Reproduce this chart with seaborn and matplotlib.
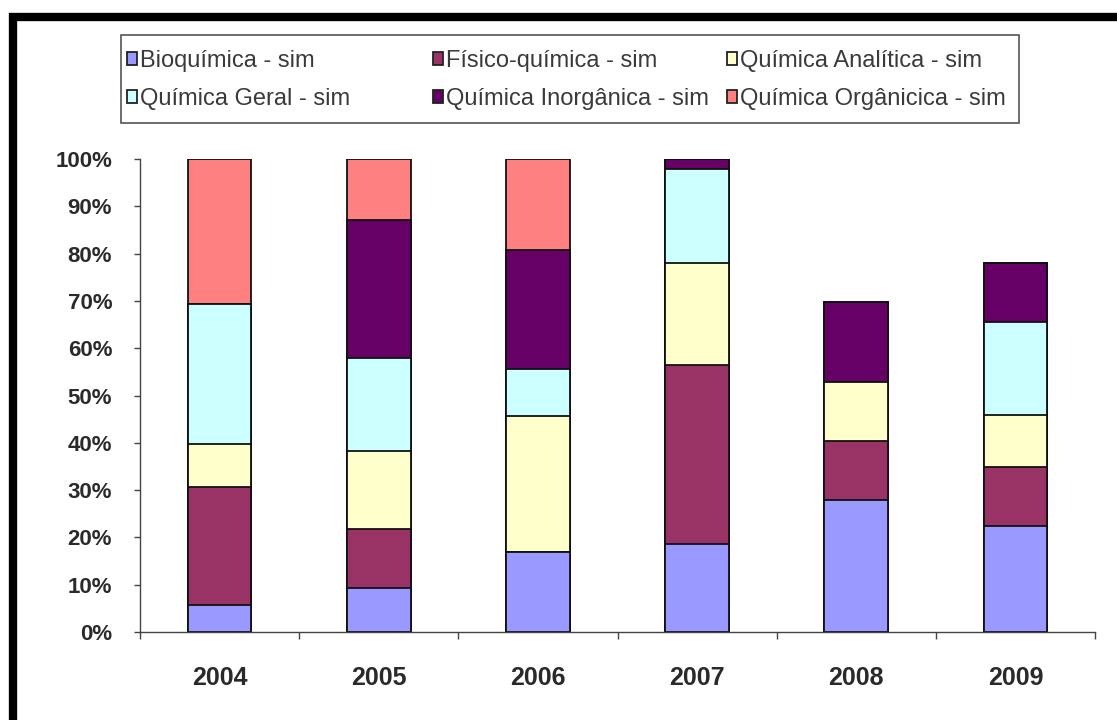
import numpy as np
import pandas as pd
import matplotlib
matplotlib.use("Agg")
import matplotlib.pyplot as plt
import matplotlib.patches as mpatches
from matplotlib.ticker import FuncFormatter, FixedLocator
import seaborn as sns

# ---- data (percent of each year) ----
years = ["2004", "2005", "2006", "2007", "2008", "2009"]
series_names = ["Bioquímica - sim", "Físico-química - sim", "Química Analítica - sim",
                "Química Geral - sim", "Química Inorgânica - sim", "Química Orgânicica - sim"]
bioquimica = [5.7, 9.2, 17.0, 18.5, 27.9, 22.4]
fisico_quimica = [25.0, 12.5, 0.0, 37.9, 12.5, 12.5]
analitica = [9.0, 16.6, 28.6, 21.6, 12.5, 11.0]
geral = [29.7, 19.6, 9.9, 19.8, 0.0, 19.6]
inorganica = [0.0, 29.3, 25.3, 2.2, 16.9, 12.5]
organica = [30.6, 12.8, 19.2, 0.0, 0.0, 0.0]
colors = ["#9999FF", "#993366", "#FFFFCC", "#CCFFFF", "#660066", "#FF8080"]

values = [bioquimica, fisico_quimica, analitica, geral, inorganica, organica]

plt.rcParams["font.family"] = ["Liberation Sans", "DejaVu Sans"]

W, H = 1117, 720
fig = plt.figure(figsize=(W / 100, H / 100), dpi=100)
fig.patch.set_facecolor("white")
ax = fig.add_axes([140 / W, 1 - 632 / H, (1095 - 140) / W, (632 - 159) / H])

cum = np.cumsum(np.array(values), axis=0)
# draw from the top series down so lower segments are painted over
for i in range(len(series_names) - 1, -1, -1):
    df = pd.DataFrame({"year": years, "cum": cum[i]})
    sns.barplot(data=df, x="year", y="cum", order=years, color=colors[i],
                saturation=1, width=0.4, edgecolor="#111111", linewidth=1.3,
                errorbar=None, ax=ax)

ax.set_xlim(-0.5, len(years) - 0.5)
ax.set_ylim(0, 100)
ax.set_yticks(np.arange(0, 101, 10))
ax.yaxis.set_major_formatter(FuncFormatter(lambda v, p: f"{int(round(v))}%"))
ax.set_xlabel("")
ax.set_ylabel("")

for s in ["top", "right"]:
    ax.spines[s].set_visible(False)
for s in ["left", "bottom"]:
    ax.spines[s].set_color("#444444")
    ax.spines[s].set_linewidth(1.0)

ax.tick_params(axis="y", direction="out", length=4, width=1, color="#444444",
               pad=16, labelsize=16, labelcolor="#2a2a2a")
ax.tick_params(axis="x", which="major", length=0, pad=24.5, labelsize=18,
               labelcolor="#2a2a2a")
for lab in ax.get_yticklabels() + ax.get_xticklabels():
    lab.set_fontweight("bold")
ax.xaxis.set_minor_locator(FixedLocator(np.arange(-0.5, len(years), 1.0)))
ax.tick_params(axis="x", which="minor", direction="out", length=5, width=1,
               color="#444444")

# legend: three columns placed separately, one shared frame
handles = [mpatches.Patch(facecolor=c, edgecolor="#222222", linewidth=1.3) for c in colors]
col_x = [127, 433, 727]
for j in range(3):
    idx = [j, j + 3]
    leg = fig.legend([handles[k] for k in idx], [series_names[k] for k in idx],
                     loc="upper left", bbox_to_anchor=(col_x[j] / W, 1 - 50 / H),
                     fontsize=17, frameon=False, handlelength=0.42,
                     handleheight=0.42, handletextpad=0.15, labelspacing=0.67,
                     borderpad=0, borderaxespad=0)
    for t in leg.get_texts():
        t.set_color("#3a3a3a")

legend_frame = mpatches.Rectangle((120.5 / W, 1 - 123 / H), (1019 - 120.5) / W, 88 / H,
                                  transform=fig.transFigure, fill=False,
                                  edgecolor="#555555", linewidth=1.2)
fig.add_artist(legend_frame)

# outer black frame (left and top edges visible)
frame = mpatches.Rectangle((13 / W, -0.2), 1.3, 1.2 - 16.5 / H,
                           transform=fig.transFigure, fill=False,
                           edgecolor="black", linewidth=6, clip_on=False)
fig.add_artist(frame)

fig.savefig("out.png", dpi=100, facecolor="white")
